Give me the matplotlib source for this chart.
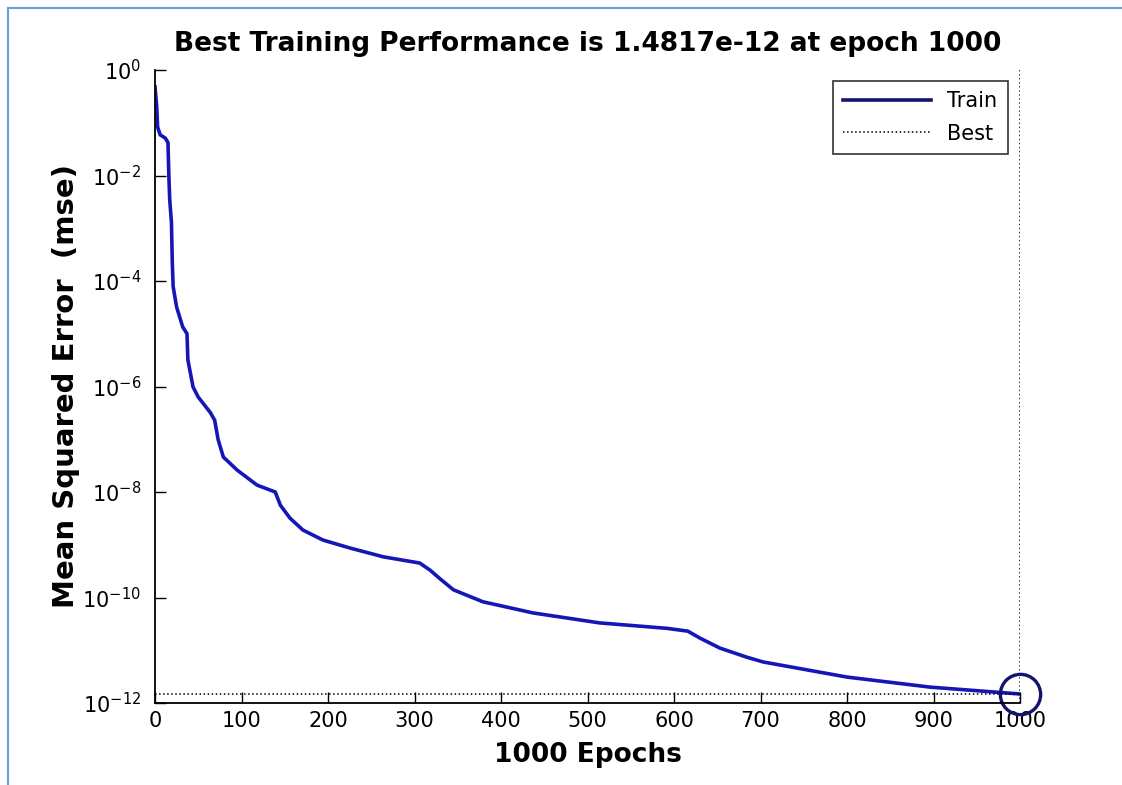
import math
import matplotlib.pyplot as plt
from matplotlib.ticker import FixedLocator, FuncFormatter, NullLocator
from matplotlib.lines import Line2D

# dane
epochs = [0, 2, 3, 6, 12, 15, 16, 17, 19, 20, 21, 25, 32, 37, 38, 44, 50, 64, 69, 73,
          79, 95, 118, 139, 145, 156, 171, 194, 225, 264, 306, 318, 329, 345, 379,
          437, 514, 592, 616, 630, 653, 684, 703, 800, 896, 1000]
mse = [0.48, 0.2, 0.083, 0.059, 0.051, 0.042, 0.010, 3.5e-3, 1.3e-3, 2.2e-4, 7.8e-5,
       3.2e-5, 1.35e-5, 1.0e-5, 3.2e-6, 9.8e-7, 6.3e-7, 3.2e-7, 2.3e-7, 9.8e-8,
       4.6e-8, 2.6e-8, 1.35e-8, 1.0e-8, 5.6e-9, 3.2e-9, 1.9e-9, 1.23e-9, 8.7e-10,
       5.9e-10, 4.5e-10, 3.3e-10, 2.3e-10, 1.4e-10, 8.3e-11, 5.1e-11, 3.3e-11,
       2.6e-11, 2.3e-11, 1.7e-11, 1.1e-11, 7.4e-12, 6.0e-12, 3.1e-12, 2.0e-12, 1.4817e-12]
best_epoch = 1000
best_mse = 1.4817e-12
x_ticks = [0, 100, 200, 300, 400, 500, 600, 700, 800, 900, 1000]
y_exps = [0, -2, -4, -6, -8, -10, -12]

plt.rcParams['font.family'] = ['DejaVu Sans']
plt.rcParams['mathtext.fontset'] = 'dejavusans'

fig = plt.figure(figsize=(11.22, 7.85), dpi=100)
ax = fig.add_axes([155 / 1122, 1 - 703 / 785, 865 / 1122, 633 / 785])

train_col = '#1616b8'
ax.plot(epochs, mse, '-', color=train_col, lw=2.6, solid_joinstyle='miter')
ax.axhline(best_mse, color='black', ls=':', lw=1.1)
ax.axvline(best_epoch, color='black', ls=':', lw=1.1)
ax.plot([best_epoch], [best_mse], 'o', ms=29, mfc='none', mec='#14146e', mew=2.4,
        clip_on=False)

ax.set_yscale('log')
ax.set_xlim(0, 1000)
ax.set_ylim(1e-12, 1e0)
ax.xaxis.set_major_locator(FixedLocator(x_ticks))
ax.yaxis.set_major_locator(FixedLocator([10.0 ** e for e in y_exps]))
ax.yaxis.set_minor_locator(NullLocator())
ax.yaxis.set_major_formatter(
    FuncFormatter(lambda v, p: '10$^{\\mathsf{%d}}$' % round(math.log10(v))))
ax.tick_params(direction='in', length=8, width=1, labelsize=15, pad=6)
ax.tick_params(axis='y', pad=10)

for s in ['top', 'right']:
    ax.spines[s].set_visible(False)
for s in ['left', 'bottom']:
    ax.spines[s].set_linewidth(1.3)

ax.set_title('Best Training Performance is 1.4817e-12 at epoch 1000',
             fontsize=19, fontweight='bold', pad=14)
ax.set_xlabel('1000 Epochs', fontsize=19, fontweight='bold', labelpad=8)
ax.set_ylabel('Mean Squared Error  (mse)', fontsize=21, fontweight='bold', labelpad=2)

handles = [Line2D([], [], color='#14146e', lw=2.6),
           Line2D([], [], color='black', ls=':', lw=1.1)]
leg = ax.legend(handles, ['Train', 'Best'], loc='upper right', fontsize=15,
                frameon=True, fancybox=False, edgecolor='black', handlelength=4.2,
                borderpad=0.5, labelspacing=0.6, borderaxespad=0,
                bbox_to_anchor=(0.986, 0.983))
leg.get_frame().set_linewidth(1.2)

# niebieska ramka zrzutu ekranu
fig.add_artist(Line2D([8 / 1122, 8 / 1122], [0, 1 - 8 / 785], color='#6f9bd8', lw=1.5))
fig.add_artist(Line2D([8 / 1122, 1], [1 - 8 / 785, 1 - 8 / 785], color='#6f9bd8', lw=1.5))

fig.savefig('out.png', dpi=100)
